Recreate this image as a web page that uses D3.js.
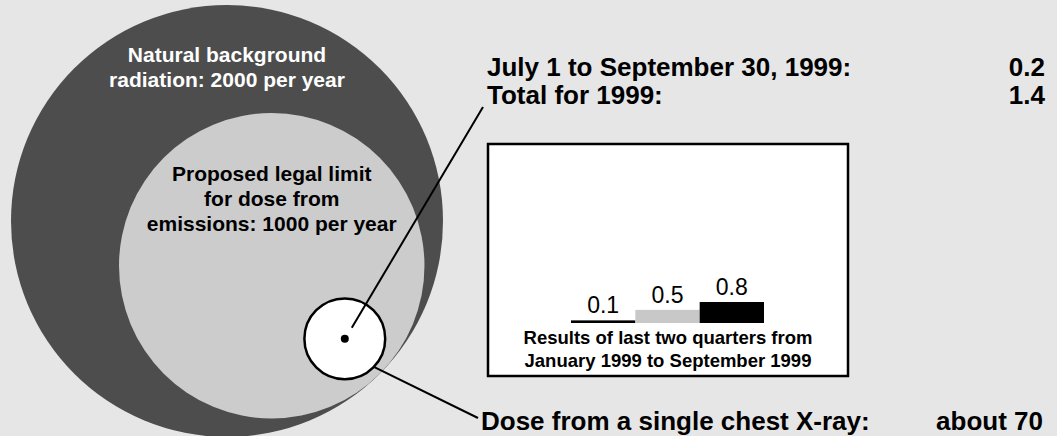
<!DOCTYPE html>
<html lang="en">
  <head>
    <meta charset="UTF-8" />
    <script src="https://d3js.org/d3.v7.min.js"></script>
    <title>Radiation dose</title>
    <style>
      body { margin: 0; background: #e6e6e6; }
      text { font-family: "Liberation Sans", Arial, sans-serif; }
    </style>
  </head>
  <body>
    <script>
      // circle values (per year / single dose)
      const doseNames = ["background", "limit", "xray"];
      const doseValues = [2000, 1000, 70];
      const doseLines = [
        ["Natural background", "radiation: 2000 per year"],
        ["Proposed legal limit", "for dose from", "emissions: 1000 per year"],
        []
      ];
      const doseColors = ["#4d4d4d", "#cccccc", "#ffffff"];

      // quarterly results
      const quarters = ["Jan-Mar 1999", "Apr-Jun 1999", "Jul-Sep 1999"];
      const quarterValues = [0.1, 0.5, 0.8];
      const quarterColors = ["#000", "#c8c8c8", "#000"];

      const summaryLabels = ["July 1 to September 30, 1999:", "Total for 1999:"];
      const summaryValues = ["0.2", "1.4"];

      const W = 1057, H = 436;
      let svg = d3.select("body").append("svg").attr("width", W).attr("height", H);
      svg.append("rect").attr("width", W).attr("height", H).attr("fill", "#e6e6e6");

      // area-proportional radius
      let r = d3.scaleSqrt().domain([0, 2000]).range([0, 216]);

      // nested layout: each circle sits inside the previous one toward bottom-right
      let centers = [];
      let c0 = [227, 221];
      centers.push(c0);
      let rr = doseValues.map(v => r(v));
      let d1 = rr[0] - rr[1];
      centers.push([c0[0] + d1 * Math.SQRT1_2, c0[1] + d1 * Math.SQRT1_2]);
      let d2 = rr[1] - rr[2] - 9;
      centers.push([centers[1][0] + d2 * Math.SQRT1_2, centers[1][1] + d2 * Math.SQRT1_2]);

      svg.selectAll("circle.dose")
        .data(doseValues)
        .enter()
        .append("circle")
        .attr("class", "dose")
        .attr("cx", (d, i) => centers[i][0])
        .attr("cy", (d, i) => centers[i][1])
        .attr("r", (d, i) => rr[i])
        .attr("fill", (d, i) => doseColors[i])
        .attr("stroke", (d, i) => (i == 2 ? "#000" : "none"))
        .attr("stroke-width", 2.5);

      // labels in circles
      let labelY = [62, 181];
      doseLines.forEach((lines, i) => {
        if (!lines.length) return;
        let t = svg.append("text")
          .attr("x", centers[i][0])
          .attr("y", labelY[i])
          .attr("text-anchor", "middle")
          .attr("font-weight", "bold")
          .attr("font-size", 21)
          .attr("fill", i == 0 ? "#fff" : "#000");
        lines.forEach((l, j) => {
          t.append("tspan").attr("x", centers[i][0]).attr("dy", j ? 25 : 0).text(l);
        });
      });

      let xc = centers[2];
      svg.append("circle").attr("cx", xc[0]).attr("cy", xc[1]).attr("r", 4).attr("fill", "#000");

      // leader lines
      svg.append("line")
        .attr("x1", xc[0] + 7).attr("y1", xc[1] - 11)
        .attr("x2", 483).attr("y2", 107)
        .attr("stroke", "#000").attr("stroke-width", 2);
      let ang = Math.PI / 180 * 44;
      svg.append("line")
        .attr("x1", xc[0] + rr[2] * Math.cos(ang)).attr("y1", xc[1] + rr[2] * Math.sin(ang))
        .attr("x2", 478).attr("y2", 418)
        .attr("stroke", "#000").attr("stroke-width", 2);

      // summary text
      summaryLabels.forEach((l, i) => {
        svg.append("text").attr("x", 487).attr("y", 76 + i * 28)
          .attr("font-weight", "bold").attr("font-size", 26).text(l);
        svg.append("text").attr("x", 1045).attr("y", 76 + i * 28)
          .attr("text-anchor", "end")
          .attr("font-weight", "bold").attr("font-size", 26).text(summaryValues[i]);
      });
      svg.append("text").attr("x", 481).attr("y", 430)
        .attr("font-weight", "bold").attr("font-size", 26).text("Dose from a single chest X-ray:");
      svg.append("text").attr("x", 1043).attr("y", 430)
        .attr("text-anchor", "end")
        .attr("font-weight", "bold").attr("font-size", 26).text("about " + doseValues[2]);

      // bar box
      svg.append("rect")
        .attr("x", 488).attr("y", 144).attr("width", 360).attr("height", 232)
        .attr("fill", "#fff").attr("stroke", "#000").attr("stroke-width", 2.5);

      let x = d3.scaleBand().domain(quarters).range([571, 764]).padding(0);
      let y = d3.scaleLinear().domain([0, 0.8]).range([323, 302]);

      svg.selectAll("rect.bar")
        .data(quarterValues)
        .enter()
        .append("rect")
        .attr("class", "bar")
        .attr("x", (d, i) => x(quarters[i]))
        .attr("y", d => y(d))
        .attr("width", x.bandwidth())
        .attr("height", d => y(0) - y(d))
        .attr("fill", (d, i) => quarterColors[i]);

      svg.selectAll("text.barval")
        .data(quarterValues)
        .enter()
        .append("text")
        .attr("class", "barval")
        .attr("x", (d, i) => x(quarters[i]) + x.bandwidth() / 2)
        .attr("y", d => y(d) - 7)
        .attr("text-anchor", "middle")
        .attr("font-size", 23)
        .text(d => d3.format(".1f")(d));

      let cap = svg.append("text")
        .attr("x", 668).attr("y", 344)
        .attr("text-anchor", "middle")
        .attr("font-weight", "bold")
        .attr("font-size", 18.5);
      ["Results of last two quarters from", "January 1999 to September 1999"].forEach((l, j) => {
        cap.append("tspan").attr("x", 668).attr("dy", j ? 23 : 0).text(l);
      });
    </script>
  </body>
</html>
